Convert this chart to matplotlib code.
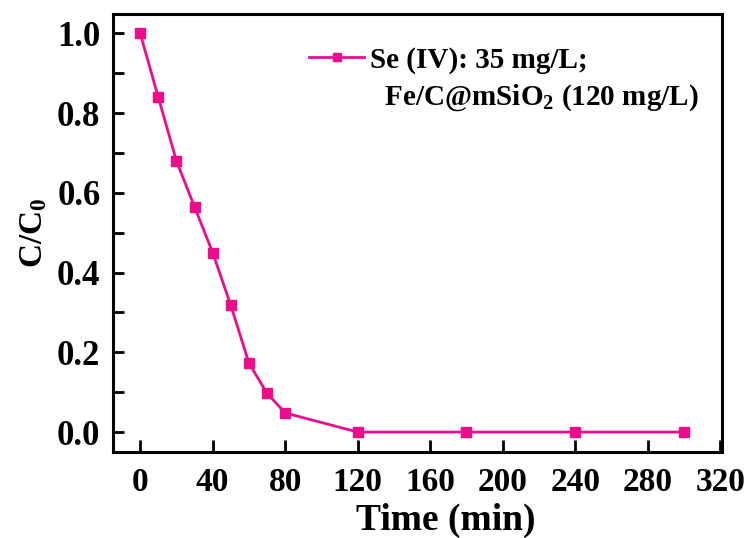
import numpy as np
import matplotlib.pyplot as plt
from matplotlib.ticker import MultipleLocator

plt.rcParams['font.family'] = 'Liberation Serif'
plt.rcParams['font.weight'] = 'bold'
plt.rcParams['mathtext.fontset'] = 'custom'
plt.rcParams['mathtext.rm'] = 'Liberation Serif:bold'
plt.rcParams['mathtext.it'] = 'Liberation Serif:bold'
plt.rcParams['mathtext.bf'] = 'Liberation Serif:bold'

# data
time_min = [0, 10, 20, 30, 40, 50, 60, 70, 80, 120, 180, 240, 300]
c_ratio = [1.0, 0.84, 0.68, 0.565, 0.45, 0.318, 0.173, 0.097, 0.048, 0.0, 0.0, 0.0, 0.0]
x_ticks = [0, 40, 80, 120, 160, 200, 240, 280, 320]
label_line1 = "Se (IV): 35 mg/L;"
label_line2 = "  Fe/C@mSiO$_2$ (120 mg/L)"

pink = '#EC0C8C'

fig = plt.figure(figsize=(7.53, 5.38), dpi=100)
ax = fig.add_axes([113/753, 1 - 452/538, 609/753, 438.5/538])

ax.plot(time_min, c_ratio, color=pink, lw=2.0, marker='s', markersize=7.5,
        markeredgecolor=pink, markerfacecolor=pink, label=label_line1)
# second line of the legend text (no visible handle)
ax.plot([], [], color='none', label=label_line2)

ax.set_xlim(-15, 321)
ax.set_ylim(-0.05, 1.05)
ax.set_xticks(x_ticks)
ax.yaxis.set_major_locator(MultipleLocator(0.2))
ax.yaxis.set_minor_locator(MultipleLocator(0.1))
ax.yaxis.set_major_formatter(plt.FormatStrFormatter('%.1f'))

for s in ax.spines.values():
    s.set_linewidth(2.2)

ax.tick_params(axis='x', which='major', direction='in', length=9, width=2,
               labelsize=24, pad=11)
ax.tick_params(axis='y', which='both', direction='in', length=8, width=2,
               labelsize=25, pad=9)

ax.set_xlabel('Time (min)', fontsize=27, fontweight='bold', labelpad=0)
ax.xaxis.set_label_coords(0.547, -0.115)
ax.set_ylabel('C/C$_0$', fontsize=24, fontweight='bold')
ax.yaxis.set_label_coords(-0.105, 0.5)

leg = ax.legend(loc='upper left', bbox_to_anchor=((309 - 113) / 609, 0.925),
                frameon=False, fontsize=21, handlelength=1.9, handletextpad=0.2,
                borderpad=0, borderaxespad=0, markerscale=0.75, labelspacing=0.3)

fig.savefig('out.png', dpi=100)
